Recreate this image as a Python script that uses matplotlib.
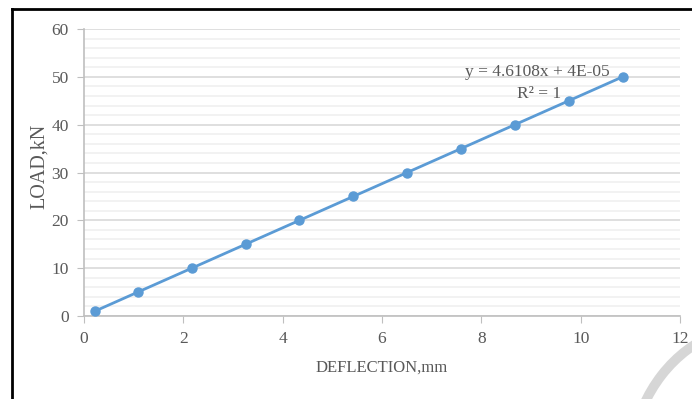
import matplotlib
matplotlib.use("Agg")
import matplotlib.pyplot as plt
from matplotlib.lines import Line2D
from matplotlib.patches import Arc
from matplotlib.ticker import MultipleLocator

# Load-deflection test readings
deflection = [0.217, 1.084, 2.169, 3.253, 4.338, 5.422, 6.506, 7.591, 8.675, 9.760, 10.844]
load = [1, 5, 10, 15, 20, 25, 30, 35, 40, 45, 50]
trend_eq = "y = 4.6108x + 4E-05"
trend_r2 = "R² = 1"

plt.rcParams['font.family'] = ['Liberation Serif', 'DejaVu Serif']
text_col = '#595959'
blue = '#5B9BD5'

fig = plt.figure(figsize=(6.92, 3.99), dpi=100)
ax = fig.add_axes([0.1214, 0.208, 0.8613, 0.7193])

ax.plot(deflection, load, color=blue, lw=2, marker='o', ms=6.5, zorder=3)

ax.set_xlim(0, 12)
ax.set_ylim(0, 60)
ax.xaxis.set_major_locator(MultipleLocator(2))
ax.yaxis.set_major_locator(MultipleLocator(10))
ax.yaxis.set_minor_locator(MultipleLocator(2))

ax.grid(axis='y', which='major', color='#d9d9d9', lw=1.2)
ax.grid(axis='y', which='minor', color='#f0f0f0', lw=1.2)
ax.set_axisbelow(True)

for s in ['top', 'right']:
    ax.spines[s].set_visible(False)
for s in ['left', 'bottom']:
    ax.spines[s].set_color('#bfbfbf')
    ax.spines[s].set_linewidth(1.2)

ax.tick_params(axis='both', which='major', direction='out', length=5,
               color='#bfbfbf', labelcolor=text_col, labelsize=12.5, pad=6)
ax.tick_params(axis='y', which='minor', length=0)

ax.set_xlabel("DEFLECTION,mm", fontsize=12, color=text_col, labelpad=9)
ax.set_ylabel("LOAD,kN", fontsize=14.5, color=text_col, labelpad=0)
ax.yaxis.set_label_coords(-0.058, 0.52)

# trendline equation
ax.text(9.13, 51.0, trend_eq, fontsize=12.5, color=text_col, ha='center', va='center')
ax.text(9.17, 46.4, trend_r2, fontsize=12.5, color=text_col, ha='center', va='center')

# frame lines on top and left of the figure
fig.add_artist(Line2D([12/692, 1], [1 - 9/399, 1 - 9/399], color='black', lw=2))
fig.add_artist(Line2D([12/692, 12/692], [0, 1 - 9/399], color='black', lw=2))

# faint curved mark at the lower right
fig.add_artist(Arc((760/692, 1 - 470/399), 260/692, 290/399, theta1=100, theta2=160,
                   transform=fig.transFigure, color='#d6d6d6', lw=7))

fig.savefig("out.png", dpi=100)
